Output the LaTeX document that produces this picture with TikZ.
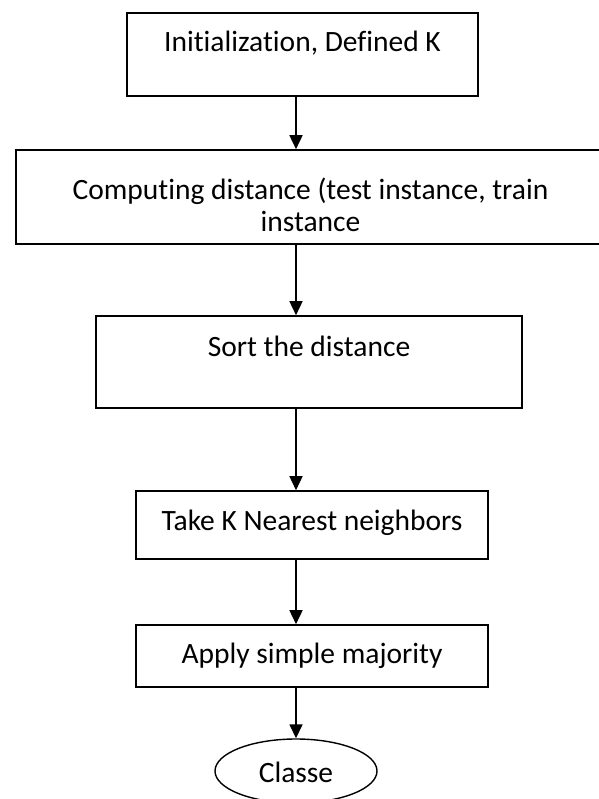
\documentclass[tikz,border=0pt]{standalone}
\usepackage{fontspec}
\setmainfont{Carlito}[Ligatures=NoCommon]
\usetikzlibrary{shapes, arrows.meta, calc}

\tikzset{
  kasten/.style={draw, line width=1.6pt, inner xsep=0pt, inner ysep=0pt, align=center},
  oval/.style={draw, ellipse, line width=1.4pt, inner sep=0pt},
}

\begin{document}
\begin{tikzpicture}[x=1pt,y=-1pt,>={Triangle[width=13pt,length=14pt]},
    every node/.style={font=\fontsize{29.5}{32}\selectfont}]
		\useasboundingbox (0,0) rectangle (598,799);
		
		% Kaesten
		\node[kasten, minimum width=351pt, text height=39pt, text depth=44pt] (init) at (302.5,54.5) {Initialization, Defined K};
		\node[kasten, minimum width=589pt, text height=82pt, text depth=12pt] (dist) at (310.5,197) {Computing distance (test instance, train\\ instance};
		\node[kasten, minimum width=426pt, text height=40pt, text depth=52pt] (sort) at (309,362) {Sort the distance};
		\node[kasten, minimum width=352pt, text height=39pt, text depth=29pt] (knn) at (312,525) {Take K Nearest neighbors};
		\node[kasten, minimum width=352pt, text height=38pt, text depth=24pt] (vote) at (312,656) {Apply simple majority};
		
		% Ende
		\node[oval, minimum width=162pt, minimum height=64pt, text height=22pt, text depth=0pt] (cls) at (296,771) {Classe};
		
		% Pfeile
		\coordinate (ax) at (296,0);
		\draw[->, line width=1.6pt] (init.south -| ax) -- (dist.north -| ax);
		\draw[->, line width=1.6pt] (dist.south -| ax) -- (sort.north -| ax);
		\draw[->, line width=1.6pt] (sort.south -| ax) -- (knn.north -| ax);
		\draw[->, line width=1.6pt] (knn.south -| ax) -- (vote.north -| ax);
		\draw[->, line width=1.6pt] (vote.south -| ax) -- (cls.north -| ax);
	\end{tikzpicture}
\end{document}
